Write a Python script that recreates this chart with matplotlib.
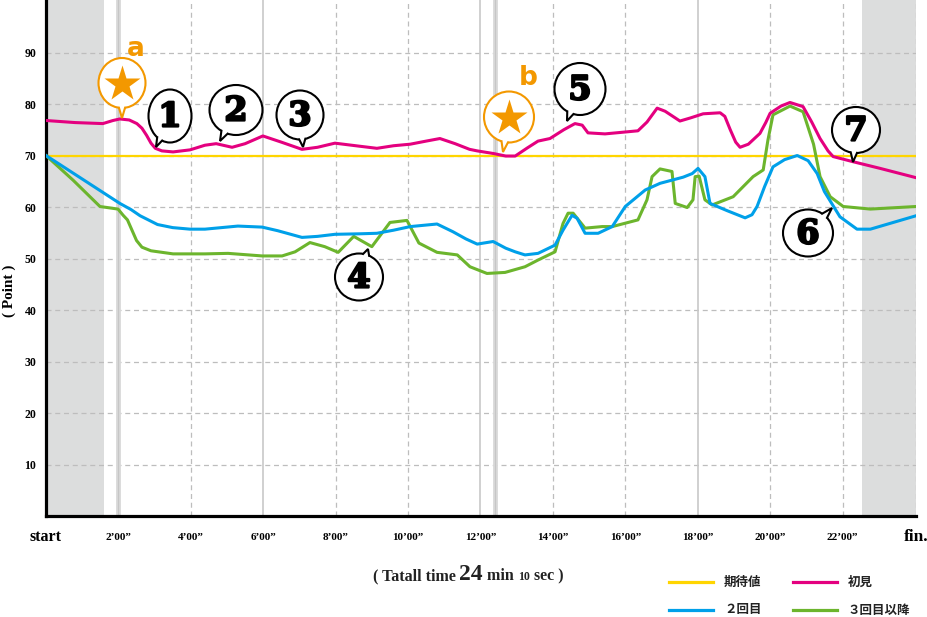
import numpy as np
import matplotlib
matplotlib.use('Agg')
import matplotlib.pyplot as plt
import matplotlib.patheffects as pe
from matplotlib.patches import Ellipse, Polygon
from matplotlib.offsetbox import TextArea, HPacker, AnnotationBbox

plt.rcParams.update({
    'font.family': ['Liberation Serif', 'DejaVu Serif'],
    'axes.linewidth': 2.3,
})

# ── data (minutes, points) ──
T_END = 24.03
EXPECTED = 70

T_FIRST = [0, 0.8, 1.57, 1.85, 2.04, 2.3, 2.51, 2.65, 2.78, 2.9, 3.02, 3.2, 3.51, 3.98, 4.39, 4.7,
           5.14, 5.5, 5.99, 6.5, 7.07, 7.5, 7.98, 8.67, 9.14, 9.6, 10.06, 10.5, 10.88, 11.3,
           11.7, 11.91, 12.35, 12.7, 12.96, 13.3, 13.59, 13.92, 14.3, 14.61, 14.81, 14.97,
           15.44, 16.35, 16.6, 16.88, 17.1, 17.51, 17.8, 18.15, 18.62, 18.75, 18.9, 19.05, 19.17,
           19.4, 19.72, 19.88, 20.0, 20.3, 20.55, 20.91, 21.15, 21.38, 21.6, 21.74, 22.29, 23.04, 24.03]
V_FIRST = [76.8, 76.4, 76.2, 76.8, 77.1, 76.9, 76.2, 75.3, 73.9, 72.4, 71.4, 70.9, 70.7, 71.1, 72.0, 72.3,
           71.6, 72.3, 73.8, 72.6, 71.2, 71.6, 72.4, 71.8, 71.4, 71.9, 72.2, 72.8, 73.3, 72.3,
           71.2, 70.9, 70.4, 69.9, 69.9, 71.5, 72.8, 73.3, 75.0, 76.2, 75.9, 74.4,
           74.2, 74.8, 76.5, 79.2, 78.6, 76.7, 77.3, 78.1, 78.3, 77.6, 75.0, 72.6, 71.6,
           72.2, 74.3, 76.4, 78.2, 79.6, 80.3, 79.5, 76.5, 73.3, 70.9, 69.8, 68.8, 67.5, 65.7]

T_SECOND = [0, 2.04, 2.35, 2.6, 3.08, 3.5, 3.98, 4.39, 5.3, 5.97, 6.4, 7.07, 7.5, 7.98, 8.67, 9.14,
            9.6, 10.06, 10.8, 11.24, 11.6, 11.91, 12.35, 12.7, 12.96, 13.23, 13.59, 14.06,
            14.28, 14.53, 14.67, 14.89, 15.25, 15.64, 16.0, 16.55, 16.96, 17.6, 17.85, 18.01,
            18.2, 18.34, 18.81, 19.31, 19.5, 19.64, 19.85, 20.08, 20.4, 20.75, 21.05, 21.3, 21.5,
            21.93, 22.4, 22.77, 24.03]
V_SECOND = [70.0, 60.7, 59.5, 58.3, 56.6, 56.0, 55.7, 55.7, 56.3, 56.1, 55.4, 54.1, 54.3, 54.7, 54.8, 54.9,
            55.5, 56.2, 56.7, 55.2, 53.8, 52.8, 53.3, 52.0, 51.3, 50.7, 51.0, 52.6,
            55.5, 58.4, 57.8, 54.9, 54.9, 56.2, 60.1, 63.3, 64.6, 65.8, 66.5, 67.5,
            65.9, 60.7, 59.3, 57.9, 58.5, 60.1, 64.0, 67.8, 69.2, 70.0, 69.0, 66.5, 63.0,
            58.1, 55.7, 55.7, 58.3]

T_THIRD = [0, 0.75, 1.49, 1.99, 2.13, 2.25, 2.5, 2.65, 2.9, 3.51, 4.39, 5.03, 5.97, 6.52, 6.88,
           7.29, 7.7, 8.07, 8.5, 9.0, 9.5, 9.97, 10.3, 10.8, 11.36, 11.71, 12.18, 12.68, 13.23,
           13.59, 14.06, 14.28, 14.42, 14.56, 14.89, 15.36, 15.64, 16.35, 16.6, 16.74, 16.96,
           17.29, 17.38, 17.71, 17.87, 17.93, 18.04, 18.2, 18.4, 18.98, 19.53, 19.81, 19.94,
           20.08, 20.55, 20.91, 21.2, 21.38, 21.66, 22.02, 22.77, 24.03]
V_THIRD = [70.0, 65.2, 60.1, 59.6, 58.4, 57.5, 53.5, 52.2, 51.5, 50.9, 50.9, 51.0, 50.5, 50.5, 51.3,
           53.1, 52.3, 51.2, 54.3, 52.3, 57.0, 57.4, 53.0, 51.2, 50.7, 48.4, 47.1, 47.3, 48.4,
           49.7, 51.3, 56.8, 58.8, 58.8, 55.9, 56.2, 56.2, 57.5, 61.4, 65.9, 67.4,
           66.9, 60.7, 59.9, 61.4, 65.9, 66.0, 61.4, 60.4, 62.0, 65.9, 67.2, 73.0,
           77.9, 79.6, 78.5, 72.2, 65.9, 62.0, 60.1, 59.6, 60.1]

SERIES_NAMES = ['期待値', '初見', '２回目', '３回目以降']

YTICKS = [10, 20, 30, 40, 50, 60, 70, 80, 90]
XTICKS = [0, 2, 4, 6, 8, 10, 12, 14, 16, 18, 20, 22, T_END]
XLABELS = ['start'] + [f'{m}’00”' for m in range(2, 24, 2)] + ['fin.']
SOLID_X = [6, 12, 18]
DASHED_X = [4, 8, 10, 14, 16, 20, 22, T_END]
MARK_X = [2, 12.4]          # moments a / b
SHADE = [(0, 1.6), (22.54, T_END)]

# ── colours ──
C_EXP = '#ffd500'
C_FIRST = '#e4007f'
C_SECOND = '#00a0e9'
C_THIRD = '#6cb52d'
C_SHADE = '#dcdddd'
C_ORANGE = '#f39800'

W, H = 927, 617
fig = plt.figure(figsize=(W / 100, H / 100), dpi=100)
ax = fig.add_axes([46 / W, 1 - 516 / H, 870 / W, 516 / H])
ax.set_xlim(0, T_END)
ax.set_ylim(0, 100.2)

for x0, x1 in SHADE:
    ax.axvspan(x0, x1, color=C_SHADE, lw=0, zorder=0)
for y in YTICKS:
    ax.axhline(y, color='#bdbdbd', lw=0.9, ls=(0, (4, 3)), zorder=1)
for x in DASHED_X:
    ax.axvline(x, color='#bdbdbd', lw=0.9, ls=(0, (4, 3)), zorder=1)
for x in SOLID_X:
    ax.axvline(x, color='#c8c8c8', lw=1.2, zorder=1)
for x in MARK_X:
    ax.axvline(x, color='#dadada', lw=3.5, zorder=1)
    ax.axvline(x, color='#c6c6c6', lw=0.9, zorder=1)

ax.axhline(EXPECTED, color=C_EXP, lw=1.6, zorder=3)
ax.plot(T_THIRD, V_THIRD, color=C_THIRD, lw=2.2, zorder=4, solid_joinstyle='round')
ax.plot(T_SECOND, V_SECOND, color=C_SECOND, lw=2.2, zorder=5, solid_joinstyle='round')
ax.plot(T_FIRST, V_FIRST, color=C_FIRST, lw=2.2, zorder=6, solid_joinstyle='round')

ax.spines[['top', 'right']].set_visible(False)
ax.set_yticks(YTICKS)
ax.set_xticks([])
ax.tick_params(axis='y', length=0, pad=7)
for lbl in ax.get_yticklabels():
    lbl.set_fontweight('bold')
    lbl.set_fontsize(8.5)

xtr = ax.get_xaxis_transform()
for x, lbl in zip(XTICKS, XLABELS):
    size = 11.5 if lbl == 'start' else 12.5 if lbl == 'fin.' else 8
    ax.text(x, -21 / 516, lbl, transform=xtr, ha='center', va='center',
            fontsize=size, fontweight='bold', clip_on=False)

fig.text(9 / W, 1 - 291 / H, '( Point )', rotation=90, ha='center', va='center',
         fontsize=11, fontweight='bold')

# x label with mixed sizes
tp = dict(weight='bold', family='Liberation Serif', color='#222222')
parts = [TextArea('( Tatall time ', textprops=dict(size=11.5, **tp)),
         TextArea('24', textprops=dict(size=17, **tp)),
         TextArea(' min ', textprops=dict(size=11.5, **tp)),
         TextArea('10', textprops=dict(size=8.5, **tp)),
         TextArea(' sec )', textprops=dict(size=11.5, **tp))]
box = HPacker(children=parts, align='baseline', pad=0, sep=0)
fig.add_artist(AnnotationBbox(box, (468 / W, 1 - 575 / H), xycoords='figure fraction',
                              frameon=False, box_alignment=(0.5, 0.5)))

# overlay in pixel coordinates for callouts and legend
ov = fig.add_axes([0, 0, 1, 1], zorder=10)
ov.set_xlim(0, W)
ov.set_ylim(H, 0)
ov.axis('off')
ov.patch.set_alpha(0)


def bubble(cx, cy, w, h, tx, ty, ec):
    ov.add_patch(Ellipse((cx, cy), w, h, fc='white', ec=ec, lw=1.5, zorder=10))
    a, b = w / 2, h / 2
    ang = np.arctan2((ty - cy) / b, (tx - cx) / a)
    edge, inner = [], []
    for d in (-0.13, 0.13):
        c, s = np.cos(ang + d), np.sin(ang + d)
        edge.append((cx + a * c, cy + b * s))
        inner.append((cx + 0.8 * a * c, cy + 0.8 * b * s))
    ov.add_patch(Polygon([inner[0], edge[0], (tx, ty), edge[1], inner[1]],
                         closed=True, fc='white', ec='none', zorder=11))
    ov.plot([edge[0][0], tx, edge[1][0]], [edge[0][1], ty, edge[1][1]],
            color=ec, lw=1.5, zorder=12, solid_joinstyle='miter')


# numbered callouts: label, centre, size, tail tip (pixels)
NOTES = [('1', (170, 116), (43, 53), (156, 147)),
         ('2', (236, 110), (53, 50), (220, 141)),
         ('3', (300, 115), (47, 49), (303, 147)),
         ('4', (359, 277), (48, 47), (368, 249)),
         ('5', (580, 89), (51, 52), (567, 121)),
         ('6', (808, 233), (50, 47), (832, 208)),
         ('7', (856, 130), (48, 46), (853, 162))]
thick = [pe.withStroke(linewidth=1.6, foreground='black')]
for txt, (cx, cy), (w, h), (tx, ty) in NOTES:
    bubble(cx, cy, w, h, tx, ty, 'black')
    ov.text(cx, cy + 1, txt, ha='center', va='center', fontsize=24, fontweight='bold',
            family='DejaVu Serif', color='black', zorder=13, path_effects=thick)

# star markers a / b
STARS = [('a', (122, 83), (47, 50), (122, 118), (136, 49)),
         ('b', (509, 117), (50, 51), (503, 152), (528, 78))]
for txt, (cx, cy), (w, h), (tx, ty), (lx, ly) in STARS:
    bubble(cx, cy, w, h, tx, ty, C_ORANGE)
    ov.plot(cx, cy + 1, marker='*', ms=27, color=C_ORANGE, mec='none', zorder=13)
    ov.text(lx, ly, txt, ha='center', va='center', fontsize=19, fontweight='bold',
            color=C_ORANGE, family='DejaVu Sans', zorder=13)

# legend
LEG = [(C_EXP, SERIES_NAMES[0], 669, 582), (C_FIRST, SERIES_NAMES[1], 793, 582),
       (C_SECOND, SERIES_NAMES[2], 669, 610), (C_THIRD, SERIES_NAMES[3], 793, 610)]
for col, name, x, y in LEG:
    ov.plot([x, x + 44], [y, y], color=col, lw=2.3)
    ov.text(x + 55, y, name, ha='left', va='center', fontsize=9, fontweight='bold',
            family=['Noto Sans CJK JP', 'DejaVu Sans'], color='#222222')

fig.savefig('out.png', dpi=100, facecolor='white')
